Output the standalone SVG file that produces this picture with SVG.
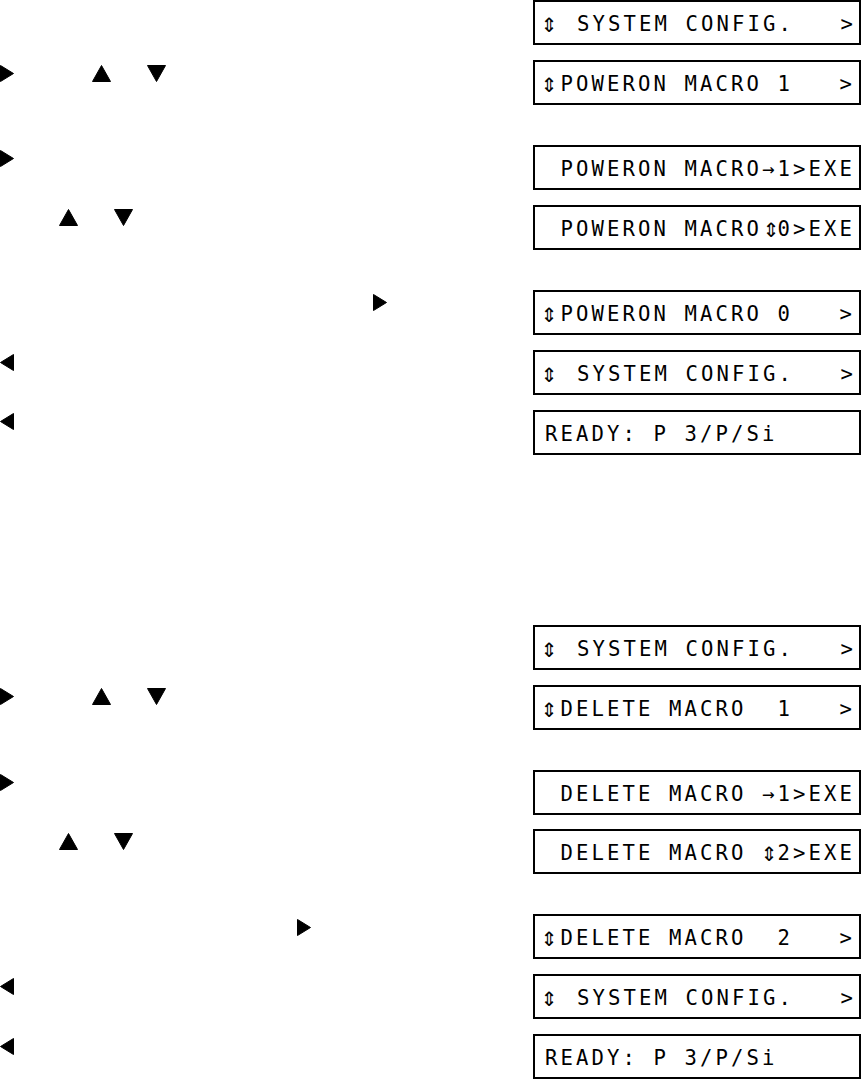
<svg xmlns="http://www.w3.org/2000/svg" xmlns:xlink="http://www.w3.org/1999/xlink" width="863" height="1079" viewBox="0 0 863 1079">
<style>
.lcd{fill:#fff;stroke:#000;stroke-width:2}
.t{font-family:"DejaVu Sans Mono","Liberation Mono",monospace;font-size:20.6px;letter-spacing:3.1px;fill:#000;white-space:pre}
.s{font-family:"DejaVu Sans Mono","DejaVu Sans",monospace;font-size:27px;letter-spacing:0}
.tri{fill:#000;stroke:#000;stroke-width:1;stroke-linejoin:round}
</style>
<defs>
<path id="tr" class="tri" d="M0.5,0.5 L13.5,8.5 L0.5,16.5 Z"/>
<path id="tl" class="tri" d="M13.5,0.5 L0.5,8.5 L13.5,16.5 Z"/>
<path id="tu" class="tri" d="M9.5,0.5 L18.5,16.5 L0.5,16.5 Z"/>
<path id="td" class="tri" d="M0.5,0.5 L18.5,0.5 L9.5,16.5 Z"/>
</defs>
<rect width="863" height="1079" fill="#fff"/>
<g id="keys">
<use xlink:href="#tr" x="0" y="65"/>
<use xlink:href="#tu" x="92" y="65"/>
<use xlink:href="#td" x="147" y="65"/>
<use xlink:href="#tr" x="0" y="150"/>
<use xlink:href="#tu" x="59" y="209"/>
<use xlink:href="#td" x="114" y="209"/>
<use xlink:href="#tr" x="373" y="294"/>
<use xlink:href="#tl" x="0" y="354"/>
<use xlink:href="#tl" x="0" y="413"/>
<use xlink:href="#tr" x="0" y="688"/>
<use xlink:href="#tu" x="92" y="688"/>
<use xlink:href="#td" x="147" y="688"/>
<use xlink:href="#tr" x="0" y="774"/>
<use xlink:href="#tu" x="59" y="833"/>
<use xlink:href="#td" x="114" y="833"/>
<use xlink:href="#tr" x="297" y="919"/>
<use xlink:href="#tl" x="0" y="978"/>
<use xlink:href="#tl" x="0" y="1038"/>
</g>
<g id="connectors"/>
<g id="d1"><rect class="lcd" x="534" y="1" width="326" height="43"/><text class="t" y="31"><tspan class="s" x="541" y="32">⇕</tspan><tspan x="577" y="31">SYSTEM CONFIG.   &gt;</tspan></text></g>
<g id="d2"><rect class="lcd" x="534" y="61" width="326" height="43"/><text class="t" y="91"><tspan class="s" x="541" y="92">⇕</tspan><tspan x="560.5" y="91">POWERON MACRO 1   &gt;</tspan></text></g>
<g id="d3"><rect class="lcd" x="534" y="146" width="326" height="43"/><text class="t" x="560.5" y="176">POWERON MACRO→1&gt;EXE</text></g>
<g id="d4"><rect class="lcd" x="534" y="206" width="326" height="43"/><text class="t" y="236"><tspan x="560.5" y="236">POWERON MACRO</tspan><tspan class="s" x="763" y="237">⇕</tspan><tspan x="777.5" y="236">0&gt;EXE</tspan></text></g>
<g id="d5"><rect class="lcd" x="534" y="291" width="326" height="43"/><text class="t" y="321"><tspan class="s" x="541" y="322">⇕</tspan><tspan x="560.5" y="321">POWERON MACRO 0   &gt;</tspan></text></g>
<g id="d6"><rect class="lcd" x="534" y="351" width="326" height="43"/><text class="t" y="381"><tspan class="s" x="541" y="382">⇕</tspan><tspan x="577" y="381">SYSTEM CONFIG.   &gt;</tspan></text></g>
<g id="d7"><rect class="lcd" x="534" y="411" width="326" height="43"/><text class="t" x="545" y="441">READY: P 3/P/Si</text></g>
<g id="d8"><rect class="lcd" x="534" y="626" width="326" height="43"/><text class="t" y="656"><tspan class="s" x="541" y="657">⇕</tspan><tspan x="577" y="656">SYSTEM CONFIG.   &gt;</tspan></text></g>
<g id="d9"><rect class="lcd" x="534" y="686" width="326" height="43"/><text class="t" y="716"><tspan class="s" x="541" y="717">⇕</tspan><tspan x="560.5" y="716">DELETE MACRO  1   &gt;</tspan></text></g>
<g id="d10"><rect class="lcd" x="534" y="771" width="326" height="43"/><text class="t" x="560.5" y="801">DELETE MACRO →1&gt;EXE</text></g>
<g id="d11"><rect class="lcd" x="534" y="830" width="326" height="43"/><text class="t" y="860"><tspan x="560.5" y="860">DELETE MACRO</tspan><tspan class="s" x="761" y="861">⇕</tspan><tspan x="777.5" y="860">2&gt;EXE</tspan></text></g>
<g id="d12"><rect class="lcd" x="534" y="915" width="326" height="43"/><text class="t" y="945"><tspan class="s" x="541" y="946">⇕</tspan><tspan x="560.5" y="945">DELETE MACRO  2   &gt;</tspan></text></g>
<g id="d13"><rect class="lcd" x="534" y="975" width="326" height="43"/><text class="t" y="1005"><tspan class="s" x="541" y="1006">⇕</tspan><tspan x="577" y="1005">SYSTEM CONFIG.   &gt;</tspan></text></g>
<g id="d14"><rect class="lcd" x="534" y="1035" width="326" height="43"/><text class="t" x="545" y="1065">READY: P 3/P/Si</text></g>
</svg>
